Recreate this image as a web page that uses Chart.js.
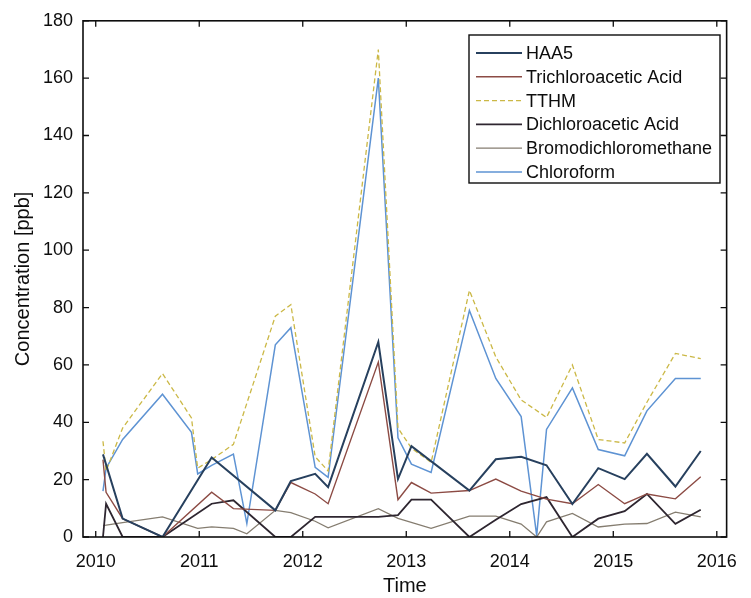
<!DOCTYPE html>
<html>
<head>
<meta charset="utf-8">
<script src="https://cdn.jsdelivr.net/npm/chart.js@4.4.1/dist/chart.umd.min.js"></script>
<style>
  html, body { margin: 0; padding: 0; background: #ffffff; }
  #wrap { position: relative; width: 751px; height: 598px; }
</style>
</head>
<body>
<div id="wrap"><canvas id="c" width="751" height="598"></canvas></div>
<script>
// Sampling dates as decimal years
const sampleTimes = [2010.07, 2010.10, 2010.26, 2010.645, 2010.925, 2010.985, 2011.12, 2011.33, 2011.46,
  2011.735, 2011.885, 2012.12, 2012.245, 2012.73, 2012.92, 2013.05, 2013.24, 2013.61, 2013.865,
  2014.11, 2014.26, 2014.355, 2014.605, 2014.855, 2015.11, 2015.325, 2015.6, 2015.845];

// Concentrations in ppb (null = not sampled)
const haa5 = [28.8, null, 6.4, 0, null, null, 27.7, null, null, 9.3, 19.5, 22, 17.4, 68, 20.2, 31.7, null,
  16.2, 27.1, 28, null, 25, 11.5, 24, 20.2, 29, 17.6, 30];
const trichloroaceticAcid = [27, 15.6, 6.4, 0, null, null, 15.6, 9.9, null, 9.3, 19, 15, 11.6, 61, 13, 19, 15.3,
  16.2, 20.2, 16, null, 13.2, 11.6, 18.3, 11.6, 15, 13.3, 21];
const tthm = [33.4, 23, 38, 57, 41.5, 24, 27, 32.3, null, 77, 81, 28, 23, 170, 38, 31, 26,
  86, 62.8, 47.8, null, 41.7, 60, 34, 32.8, 47, 64, 62.2];
const dichloroaceticAcid = [0, 11.6, 0, 0, null, null, 11.6, 12.8, null, 0, 0, 7, 7, 7, 7.6, 13, 13,
  0, 6, 11.5, null, 13.9, 0, 6.4, 9, 15, 4.6, 9.5];
const bromodichloromethane = [4, null, 5, 7, null, 3, 3.5, 3, 1.1, 9.3, 8.5, 5.5, 3.2, 9.9, 6.5, null, 3,
  7.3, 7.3, 4.5, 0, 5.3, 8.2, 3.5, 4.5, 4.7, 8.7, 7];
const chloroform = [16, 24, 34, 49.8, 36.5, 22, 25, 28.9, 4.7, 67, 73, 24.3, 20.8, 160, 34.6, 25.4, 22.5,
  79, 55.3, 42, 0.5, 37.5, 52, 30.5, 28.3, 44, 55.3, 55.3];

const seriesNames = ['HAA5', 'Trichloroacetic Acid', 'TTHM', 'Dichloroacetic Acid', 'Bromodichloromethane', 'Chloroform'];
const yearTicks = [2010, 2011, 2012, 2013, 2014, 2015, 2016];
const concTicks = [0, 20, 40, 60, 80, 100, 120, 140, 160, 180];

const FONT = '"Liberation Sans", Arial, Helvetica, sans-serif';
const INK = '#0d0d0d';

function series(values) {
  return sampleTimes.map((t, i) => ({ x: t, y: values[i] }));
}

const styles = [
  { color: '#27405e', width: 2.0, dash: [] },
  { color: '#8c4b44', width: 1.4, dash: [] },
  { color: '#cbb846', width: 1.3, dash: [5, 3] },
  { color: '#2e2630', width: 1.8, dash: [] },
  { color: '#857d70', width: 1.3, dash: [] },
  { color: '#5e93d3', width: 1.5, dash: [] }
];
const allValues = [haa5, trichloroaceticAcid, tthm, dichloroaceticAcid, bromodichloromethane, chloroform];

const datasets = allValues.map((vals, i) => ({
  label: seriesNames[i],
  data: series(vals),
  borderColor: styles[i].color,
  borderWidth: styles[i].width,
  borderDash: styles[i].dash,
  pointRadius: 0,
  pointHoverRadius: 0,
  tension: 0,
  spanGaps: true,
  fill: false
}));

// Axis box with inward ticks on all four sides
const boxPlugin = {
  id: 'boxTicks',
  afterDatasetsDraw(chart) {
    const { ctx, chartArea: a, scales } = chart;
    ctx.save();
    ctx.strokeStyle = INK;
    ctx.lineWidth = 1.6;
    ctx.setLineDash([]);
    ctx.strokeRect(a.left, a.top, a.right - a.left, a.bottom - a.top);
    ctx.lineWidth = 1.3;
    const tl = 6;
    ctx.beginPath();
    yearTicks.forEach(v => {
      const x = scales.x.getPixelForValue(v);
      ctx.moveTo(x, a.bottom); ctx.lineTo(x, a.bottom - tl);
      ctx.moveTo(x, a.top); ctx.lineTo(x, a.top + tl);
    });
    concTicks.forEach(v => {
      const y = scales.y.getPixelForValue(v);
      ctx.moveTo(a.left, y); ctx.lineTo(a.left + tl, y);
      ctx.moveTo(a.right, y); ctx.lineTo(a.right - tl, y);
    });
    ctx.stroke();
    ctx.restore();
  }
};

// Boxed legend in the upper right of the plot
const legendPlugin = {
  id: 'boxLegend',
  afterDraw(chart) {
    const { ctx } = chart;
    const x0 = 469, y0 = 35, w = 251, h = 148;
    const rowStart = 53, rowGap = 23.8;
    ctx.save();
    ctx.fillStyle = '#ffffff';
    ctx.fillRect(x0, y0, w, h);
    ctx.strokeStyle = INK;
    ctx.lineWidth = 1.4;
    ctx.strokeRect(x0, y0, w, h);
    ctx.font = '18px ' + FONT;
    ctx.textBaseline = 'middle';
    ctx.textAlign = 'left';
    chart.data.datasets.forEach((ds, i) => {
      const y = rowStart + i * rowGap;
      ctx.strokeStyle = ds.borderColor;
      ctx.lineWidth = ds.borderWidth;
      ctx.setLineDash(ds.borderDash || []);
      ctx.beginPath();
      ctx.moveTo(x0 + 7, y);
      ctx.lineTo(x0 + 53, y);
      ctx.stroke();
      ctx.setLineDash([]);
      ctx.fillStyle = INK;
      ctx.fillText(ds.label, x0 + 57, y + 1);
    });
    ctx.restore();
  }
};

new Chart(document.getElementById('c'), {
  type: 'line',
  data: { datasets },
  options: {
    responsive: false,
    devicePixelRatio: 1,
    animation: false,
    events: [],
    layout: { padding: { left: 0, right: 12, top: 15, bottom: 0 } },
    plugins: { legend: { display: false }, tooltip: { enabled: false } },
    scales: {
      x: {
        type: 'linear',
        min: 2009.877,
        max: 2016.095,
        afterBuildTicks(scale) { scale.ticks = yearTicks.map(v => ({ value: v })); },
        afterFit(scale) { scale.height = 61; },
        grid: { display: false, drawTicks: false },
        border: { display: false },
        ticks: {
          color: INK,
          font: { family: FONT, size: 18 },
          padding: 14,
          maxRotation: 0,
          autoSkip: false,
          callback: v => String(v)
        },
        title: {
          display: true,
          text: 'Time',
          color: INK,
          font: { family: FONT, size: 20 },
          padding: { top: 0, bottom: 0 }
        }
      },
      y: {
        min: 0,
        max: 180,
        afterBuildTicks(scale) { scale.ticks = concTicks.map(v => ({ value: v })); },
        afterFit(scale) { scale.width = 83; },
        grid: { display: false, drawTicks: false },
        border: { display: false },
        ticks: {
          color: INK,
          font: { family: FONT, size: 18 },
          padding: 10,
          callback: v => String(v)
        },
        title: {
          display: true,
          text: 'Concentration [ppb]',
          color: INK,
          font: { family: FONT, size: 20 },
          padding: { top: 11, bottom: 0 }
        }
      }
    }
  },
  plugins: [boxPlugin, legendPlugin]
});
</script>
</body>
</html>
